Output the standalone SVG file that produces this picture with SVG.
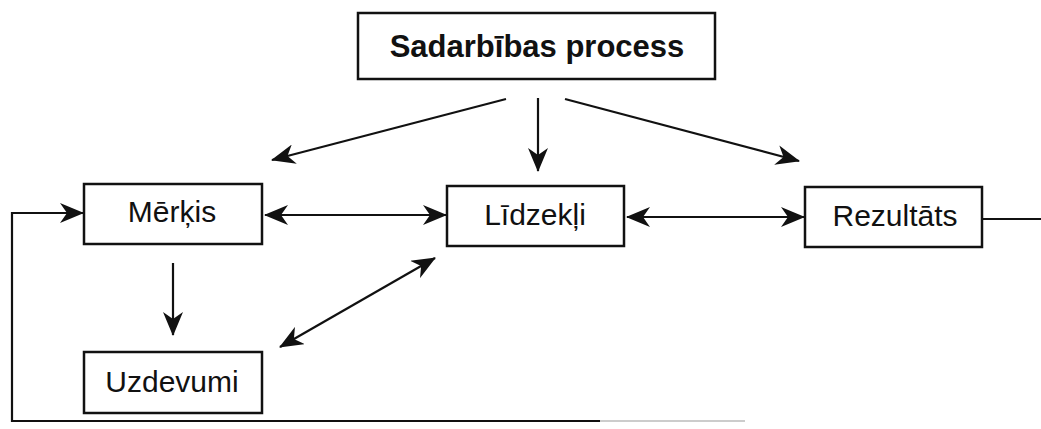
<svg xmlns="http://www.w3.org/2000/svg" width="1041" height="429" viewBox="0 0 1041 429">
  <style>
    .box { fill: #ffffff; stroke: #111111; stroke-width: 2.5; }
    .lbl { font-family: "Liberation Sans", Arial, sans-serif; font-size: 30px; fill: #111111; text-anchor: middle; }
    .title { font-family: "Liberation Sans", Arial, sans-serif; font-size: 31px; font-weight: bold; fill: #111111; text-anchor: middle; }
    .ln { fill: none; stroke: #111111; stroke-width: 2.2; }
  </style>
  <defs>
    <marker id="ah" markerUnits="userSpaceOnUse" viewBox="0 0 24 20" markerWidth="24" markerHeight="20" refX="23" refY="10" orient="auto-start-reverse">
      <path d="M0,0 L24,10 L0,20 L7,10 Z" fill="#111111"/>
    </marker>
  </defs>
  <rect width="1041" height="429" fill="#ffffff"/>

  <g id="connectors">
    <line class="ln" x1="506" y1="99" x2="272" y2="160" marker-end="url(#ah)"/>
    <line class="ln" x1="538" y1="98" x2="538" y2="171" marker-end="url(#ah)"/>
    <line class="ln" x1="565" y1="99" x2="799" y2="161" marker-end="url(#ah)"/>
    <line class="ln" x1="265" y1="215" x2="446" y2="215" marker-start="url(#ah)" marker-end="url(#ah)"/>
    <line class="ln" x1="627" y1="217" x2="804" y2="217" marker-start="url(#ah)" marker-end="url(#ah)"/>
    <line class="ln" x1="173" y1="263" x2="173" y2="335" marker-end="url(#ah)"/>
    <line class="ln" x1="280" y1="347" x2="435" y2="258" marker-start="url(#ah)" marker-end="url(#ah)"/>
    <line class="ln" x1="982" y1="219" x2="1041" y2="219"/>
    <polyline class="ln" points="600,421 12,421 12,213 83,213" marker-end="url(#ah)"/>
    <line x1="600" y1="421" x2="745" y2="421" stroke="#cccccc" stroke-width="2"/>
  </g>

  <g id="node-sadarbibas">
    <rect class="box" x="358" y="13" width="357" height="66"/>
    <text class="title" x="537" y="57">Sadarbības process</text>
  </g>
  <g id="node-merkis">
    <rect class="box" x="84" y="184" width="178" height="60"/>
    <text class="lbl" x="172" y="222">Mērķis</text>
  </g>
  <g id="node-lidzekli">
    <rect class="box" x="447" y="186" width="177" height="60"/>
    <text class="lbl" x="535" y="225">Līdzekļi</text>
  </g>
  <g id="node-rezultats">
    <rect class="box" x="805" y="187" width="177" height="60"/>
    <text class="lbl" x="895" y="226">Rezultāts</text>
  </g>
  <g id="node-uzdevumi">
    <rect class="box" x="84" y="352" width="178" height="61"/>
    <text class="lbl" x="172" y="392">Uzdevumi</text>
  </g>
</svg>
